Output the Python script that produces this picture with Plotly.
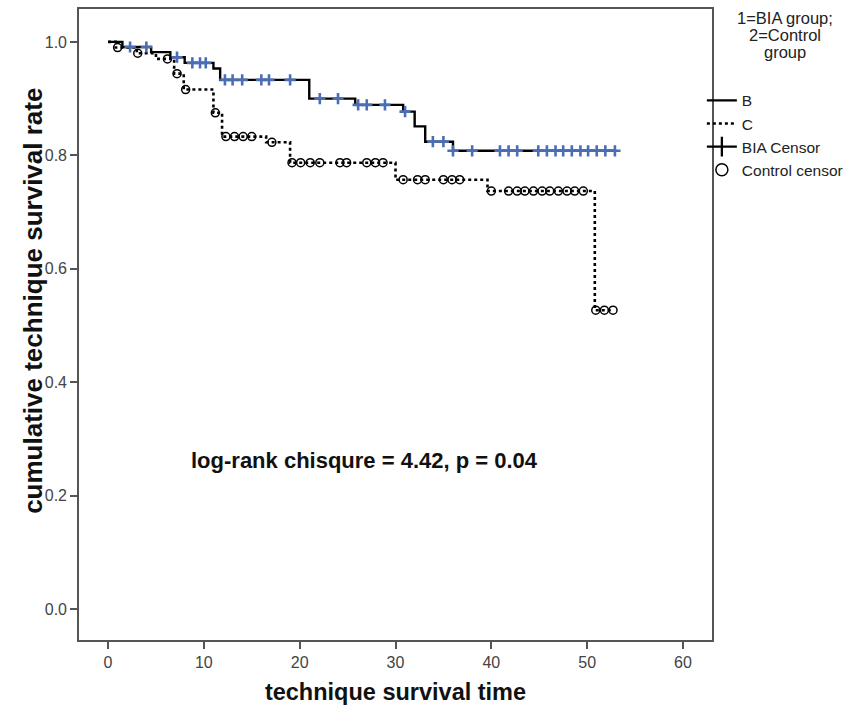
import plotly.graph_objects as go
import numpy as np

# ---- data ----
b_times = [0, 1.5, 4.5, 6.5, 8.0, 11.0, 11.7, 21.0, 25.8, 30.8, 32.0, 33.1, 36.0]
b_surv = [1.0, 0.991, 0.982, 0.973, 0.963, 0.953, 0.933, 0.900, 0.889, 0.877, 0.851, 0.824, 0.808]
b_end = 53.0
b_censor = [2.3, 4.0, 7.2, 8.8, 9.6, 10.2, 12.2, 13.0, 14.0, 16.0, 16.8, 19.0, 22.1, 24.0,
            26.1, 27.0, 28.9, 31.0, 33.9, 35.0, 36.0, 38.0, 40.9, 41.8, 42.7, 44.9, 45.8,
            46.7, 47.5, 48.4, 49.3, 50.1, 51.0, 51.9, 52.9]

c_times = [0, 0.8, 3.0, 5.0, 6.9, 7.9, 11.0, 11.9, 16.5, 19.0, 30.0, 39.6, 50.8]
c_surv = [1.0, 0.990, 0.980, 0.970, 0.944, 0.916, 0.875, 0.833, 0.823, 0.787, 0.757, 0.737, 0.527]
c_end = 52.7
c_censor = [1.0, 3.1, 6.2, 7.2, 8.1, 11.2, 12.3, 13.2, 14.1, 15.0, 17.1, 19.2, 20.1, 21.1,
            22.1, 24.2, 24.9, 27.0, 27.9, 28.7, 30.8, 32.3, 33.1, 35.0, 35.9, 36.7, 40.0,
            41.8, 42.7, 43.5, 44.4, 45.3, 46.1, 47.0, 47.9, 48.7, 49.6, 50.9, 51.8, 52.7]

x_ticks = [0, 10, 20, 30, 40, 50, 60]
y_ticks = [0.0, 0.2, 0.4, 0.6, 0.8, 1.0]
y_tick_labels = ["0.0", "0.2", "0.4", "0.6", "0.8", "1.0"]

legend_title_lines = ["1=BIA group;", "2=Control", "group"]
series_names = ["B", "C", "BIA Censor", "Control censor"]
annotation_text = "<b>log-rank chisqure = 4.42, p = 0.04</b>"


def step_value(times, surv, t):
    idx = np.searchsorted(np.array(times), t, side="right") - 1
    return surv[max(idx, 0)]


def step_xy(times, surv, end):
    return list(times) + [end], list(surv) + [surv[-1]]


FONT = "Liberation Sans, Arial, sans-serif"
BLUE = "#4a6db4"

fig = go.Figure()

bx, by = step_xy(b_times, b_surv, b_end)
cx, cy = step_xy(c_times, c_surv, c_end)

fig.add_trace(go.Scatter(x=cx, y=cy, mode="lines",
                         line=dict(shape="hv", color="black", width=2.6, dash="3px,3px"),
                         showlegend=False, hoverinfo="skip"))
fig.add_trace(go.Scatter(x=bx, y=by, mode="lines", line=dict(shape="hv", color="black", width=2.4),
                         showlegend=False, hoverinfo="skip"))
fig.add_trace(go.Scatter(x=c_censor, y=[step_value(c_times, c_surv, t) for t in c_censor], mode="markers",
                         marker=dict(symbol="circle-open", size=8, color="black", line=dict(width=1.5)),
                         showlegend=False))
fig.add_trace(go.Scatter(x=b_censor, y=[step_value(b_times, b_surv, t) for t in b_censor], mode="markers",
                         marker=dict(symbol="cross-thin", size=8, color=BLUE, line=dict(width=2.6, color=BLUE)),
                         showlegend=False))

# legend entries
fig.add_trace(go.Scatter(x=[None], y=[None], mode="lines", line=dict(color="black", width=2.3),
                         name=series_names[0]))
fig.add_trace(go.Scatter(x=[None], y=[None], mode="lines", line=dict(color="black", width=2.3, dash="3px,3px"),
                         name=series_names[1]))
fig.add_trace(go.Scatter(x=[None], y=[None], mode="lines+markers", line=dict(color="black", width=2.3),
                         marker=dict(symbol="line-ns", size=14, color="black", line=dict(width=2.3, color="black")),
                         name=series_names[2]))
fig.add_trace(go.Scatter(x=[None], y=[None], mode="markers",
                         marker=dict(symbol="circle-open", size=12, color="black", line=dict(width=1.5)),
                         name=series_names[3]))

fig.add_annotation(x=26.8, y=0.262, xref="x", yref="y", text=annotation_text, showarrow=False,
                   font=dict(family=FONT, size=22, color="#111"))
fig.add_annotation(x=-0.1, y=0.537, xref="paper", yref="paper",
                   text="<b>cumulative technique survival rate</b>",
                   textangle=-90, showarrow=False, font=dict(family=FONT, size=26, color="#111"))

for line_text, ypos in zip(legend_title_lines, [0.986, 0.959, 0.932]):
    fig.add_annotation(x=1.115, y=ypos, xref="paper", yref="paper", text=line_text, showarrow=False,
                       xanchor="center", yanchor="middle", font=dict(family=FONT, size=16.5, color="#222"))

axis_common = dict(showline=True, linecolor="#555", linewidth=1.6, mirror=True, ticks="outside",
                   ticklen=7, tickwidth=1.6, tickcolor="#555", showgrid=False, zeroline=False,
                   tickfont=dict(family=FONT, size=16, color="#444"))

fig.update_layout(
    width=861, height=715,
    margin=dict(l=79, r=149, t=7, b=75),
    paper_bgcolor="white", plot_bgcolor="white",
    xaxis=dict(range=[-3.03, 63.03], tickvals=x_ticks,
               title=dict(text="<b>technique survival time</b>", font=dict(family=FONT, size=23.5, color="#111"),
                          standoff=14),
               **axis_common),
    yaxis=dict(range=[-0.0545, 1.058], tickvals=y_ticks, ticktext=y_tick_labels, **axis_common),
    legend=dict(x=0.984, xanchor="left", y=0.8815, yanchor="top", bgcolor="rgba(0,0,0,0)",
                font=dict(family=FONT, size=15.5, color="#222"), itemwidth=30, tracegroupgap=0),
    showlegend=True,
)

fig.write_html("out.html", config={"displayModeBar": False},
               post_script="document.body.style.margin='0px';")
